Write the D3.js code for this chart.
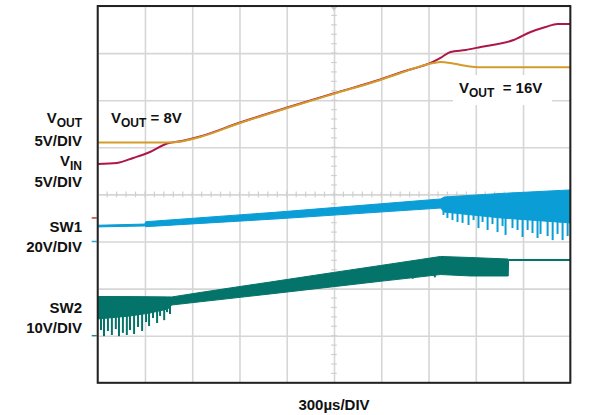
<!DOCTYPE html>
<html>
<head>
<meta charset="utf-8">
<script src="https://cdn.jsdelivr.net/npm/d3@7/dist/d3.min.js"></script>
<style>
  html, body { margin: 0; padding: 0; background: #fff; }
  svg { display: block; font-family: "Liberation Sans", Arial, sans-serif; font-weight: bold; }
</style>
</head>
<body>
<svg id="scope" width="590" height="415"></svg>
<script>
// Time base: 300 µs per division, 10 divisions
const timeTicks = [0, 300, 600, 900, 1200, 1500, 1800, 2100, 2400, 2700, 3000];
const divTicks = [-4, -3, -2, -1, 0, 1, 2, 3, 4];

// VIN and VOUT (volts, 5 V/DIV)
const vinTime = [0, 123, 225, 332, 440, 542, 650, 904, 1203, 1496, 1794, 1922, 2131, 2176, 2240, 2335, 2431, 2640, 2748, 2843, 2919, 3000];
const vinVolts = [5.73, 5.84, 6.37, 7.0, 7.9, 8.2, 8.64, 10.13, 11.72, 13.21, 14.7, 15.44, 16.6, 17.0, 17.62, 17.83, 18.15, 18.89, 19.74, 20.27, 20.6, 20.6];
const voutTime = [0, 440, 542, 650, 904, 1203, 1496, 1794, 1922, 2131, 2176, 2240, 2304, 2412, 3000];
const voutVolts = [8.0, 8.0, 8.15, 8.59, 10.08, 11.67, 13.16, 14.65, 15.39, 16.45, 16.56, 16.45, 16.24, 16.0, 16.0];

// SW1 switching node envelope (volts, 20 V/DIV)
const sw1Time = [0, 299, 305, 1125, 2176, 2200, 2560, 3000];
const sw1High = [6.9, 7.4, 8.4, 12.4, 18.05, 18.9, 20.4, 21.9];
const sw1Low = [6.2, 6.6, 6.3, 9.55, 14.2, 12.5, 10.0, 7.9];
const sw1SpikeTime = [2195, 2220, 2252, 2284, 2316, 2354, 2386, 2417, 2443, 2475, 2506, 2538, 2570, 2589, 2633, 2665, 2697, 2729, 2760, 2792, 2811, 2856, 2888, 2919, 2951, 2983];
const sw1SpikeVolts = [11.3, 10.0, 9.1, 8.3, 7.9, 7.0, 9.1, 5.7, 8.3, 4.9, 7.4, 4.0, 6.6, 2.8, 5.7, 4.9, 1.9, 4.9, 3.6, 1.5, 3.2, 2.3, 0.6, 3.2, 0.6, 2.3];

// SW2 switching node envelope (volts, 10 V/DIV)
const sw2Time = [0, 205, 332, 445, 470, 650, 904, 1095, 1496, 1794, 2049, 2176, 2367, 2606, 2608, 3000];
const sw2High = [8.32, 8.3, 8.27, 8.24, 8.22, 9.17, 10.45, 11.4, 13.42, 14.9, 16.18, 16.82, 16.6, 16.28, 16.18, 16.18];
const sw2Low = [3.55, 4.18, 4.82, 5.67, 6.52, 7.2, 8.15, 8.87, 10.4, 11.55, 12.5, 12.99, 12.68, 12.68, 15.97, 15.97];
const sw2SpikeTime = [21, 40, 65, 90, 115, 135, 160, 185, 205, 231, 256, 282, 307, 326, 351, 377, 396, 422, 440, 459, 2000, 2140];
const sw2SpikeVolts = [1.2, -0.1, 1.0, 0.15, 1.4, -0.1, 0.6, 0.15, 1.2, 0.35, 1.85, 1.0, 2.9, 2.05, 3.75, 2.7, 4.2, 3.3, 5.0, 4.6, 12.1, 12.4];

// Channel placement: ground level (in divisions from centre) and volts per division
const channels = {
  vout: { ground: -0.5, perDiv: 5, color: "#d39b2a", marker: "#c0432e" },
  vin:  { ground: -0.5, perDiv: 5, color: "#ad1747" },
  sw1:  { ground: -1.0, perDiv: 20, color: "#0a9dd6", marker: "#2aa7d8" },
  sw2:  { ground: -3.0, perDiv: 10, color: "#04736a", marker: "#2a8a80" }
};

const svg = d3.select("#scope");
const plotLeft = 97.7, plotRight = 570.3, plotTop = 6, plotBottom = 382.8;
const x = d3.scaleLinear().domain([0, 3000]).range([plotLeft, plotRight]);
const yDiv = d3.scaleLinear().domain([-4, 4]).range([plotBottom, plotTop]);
const yOf = ch => v => yDiv(ch.ground + v / ch.perDiv);

// Graticule
const grid = svg.append("g");
grid.append("g")
  .attr("transform", `translate(0,${plotBottom})`)
  .call(d3.axisBottom(x).tickValues(timeTicks).tickSize(-(plotBottom - plotTop)).tickFormat(""))
  .call(g => g.select(".domain").remove())
  .call(g => g.selectAll("line").attr("stroke", "#d6d6d6").attr("stroke-width", 1.6));
grid.append("g")
  .attr("transform", `translate(${plotLeft},0)`)
  .call(d3.axisLeft(yDiv).tickValues(divTicks).tickSize(-(plotRight - plotLeft)).tickFormat(""))
  .call(g => g.select(".domain").remove())
  .call(g => g.selectAll("line").attr("stroke", "#d6d6d6").attr("stroke-width", 1.6));

// Minor ticks along the centre cross
const minorT = d3.range(0, 3001, 60);
const minorD = d3.range(-4, 4.001, 0.2);
grid.append("g").selectAll("line").data(minorT).join("line")
  .attr("x1", d => x(d)).attr("x2", d => x(d))
  .attr("y1", yDiv(0) - 2.8).attr("y2", yDiv(0) + 2.8)
  .attr("stroke", "#cfcfcf").attr("stroke-width", 1.2);
grid.append("g").selectAll("line").data(minorD).join("line")
  .attr("y1", d => yDiv(d)).attr("y2", d => yDiv(d))
  .attr("x1", x(1500) - 2.8).attr("x2", x(1500) + 2.8)
  .attr("stroke", "#cfcfcf").attr("stroke-width", 1.2);

// Trigger position marker
svg.append("path")
  .attr("d", `M${x(1500) - 3},${plotTop + 1} L${x(1500) + 3},${plotTop + 1} L${x(1500)},${plotTop + 5} Z`)
  .attr("fill", "#c8c8c8");

// Switching nodes
function band(ch, times, hi, lo) {
  const y = yOf(ch);
  const rows = times.map((t, i) => ({ t, hi: hi[i], lo: lo[i] }));
  svg.append("path").datum(rows)
    .attr("d", d3.area().x(d => x(d.t)).y0(d => y(d.lo)).y1(d => y(d.hi)))
    .attr("fill", ch.color).attr("stroke", ch.color).attr("stroke-width", 1);
}
function spikes(ch, times, lowEnv, spikeT, spikeV) {
  const y = yOf(ch);
  const lowAt = d3.scaleLinear().domain(times).range(lowEnv);
  svg.append("g").selectAll("line").data(spikeT.map((t, i) => ({ t, v: spikeV[i] }))).join("line")
    .attr("x1", d => x(d.t)).attr("x2", d => x(d.t))
    .attr("y1", d => y(lowAt(d.t)) - 1).attr("y2", d => y(d.v))
    .attr("stroke", ch.color).attr("stroke-width", 2);
}
band(channels.sw1, sw1Time, sw1High, sw1Low);
spikes(channels.sw1, sw1Time, sw1Low, sw1SpikeTime, sw1SpikeVolts);
band(channels.sw2, sw2Time, sw2High, sw2Low);
spikes(channels.sw2, sw2Time, sw2Low, sw2SpikeTime, sw2SpikeVolts);

// VIN and VOUT traces
function trace(ch, times, volts) {
  const y = yOf(ch);
  svg.append("path").datum(times.map((t, i) => [t, volts[i]]))
    .attr("d", d3.line().curve(d3.curveMonotoneX).x(d => x(d[0])).y(d => y(d[1])))
    .attr("fill", "none").attr("stroke", ch.color).attr("stroke-width", 2);
}
trace(channels.vin, vinTime, vinVolts);
trace(channels.vout, voutTime, voutVolts);

// Ground markers on the left edge
[channels.vout, channels.sw1, channels.sw2].forEach(ch => {
  svg.append("line")
    .attr("x1", plotLeft - 6).attr("x2", plotLeft - 1)
    .attr("y1", yDiv(ch.ground)).attr("y2", yDiv(ch.ground))
    .attr("stroke", ch.marker).attr("stroke-width", 1.5);
});

// Frame
svg.append("rect")
  .attr("x", plotLeft).attr("y", plotTop).attr("width", plotRight - plotLeft).attr("height", plotBottom - plotTop)
  .attr("fill", "none").attr("stroke", "#222").attr("stroke-width", 2);

// Labels
const fs = 15, subFs = 12;
function label(xPos, yPos, main, sub, rest, anchor) {
  const t = svg.append("text").attr("x", xPos).attr("y", yPos)
    .attr("text-anchor", anchor).attr("font-size", fs).attr("fill", "#111");
  t.append("tspan").text(main);
  if (sub) t.append("tspan").attr("font-size", subFs).attr("dy", 4).text(sub);
  if (rest) t.append("tspan").attr("dy", sub ? -4 : 0).attr("font-size", fs).text(rest);
  return t;
}
label(82, 123, "V", "OUT", null, "end");
label(82, 146, "5V/DIV", null, null, "end");
label(82, 166, "V", "IN", null, "end");
label(82, 187, "5V/DIV", null, null, "end");
label(82, 232, "SW1", null, null, "end");
label(82, 252, "20V/DIV", null, null, "end");
label(82, 313, "SW2", null, null, "end");
label(82, 333, "10V/DIV", null, null, "end");

label(111, 123, "V", "OUT", " = 8V", "start");
svg.append("rect").attr("x", 453).attr("y", 75).attr("width", 99).attr("height", 30).attr("fill", "#fff");
label(459, 93, "V", "OUT", "  = 16V", "start").style("white-space", "pre");

svg.append("text").attr("x", x(1500)).attr("y", 410)
  .attr("text-anchor", "middle").attr("font-size", fs).attr("fill", "#111")
  .text("300µs/DIV");
</script>
</body>
</html>
